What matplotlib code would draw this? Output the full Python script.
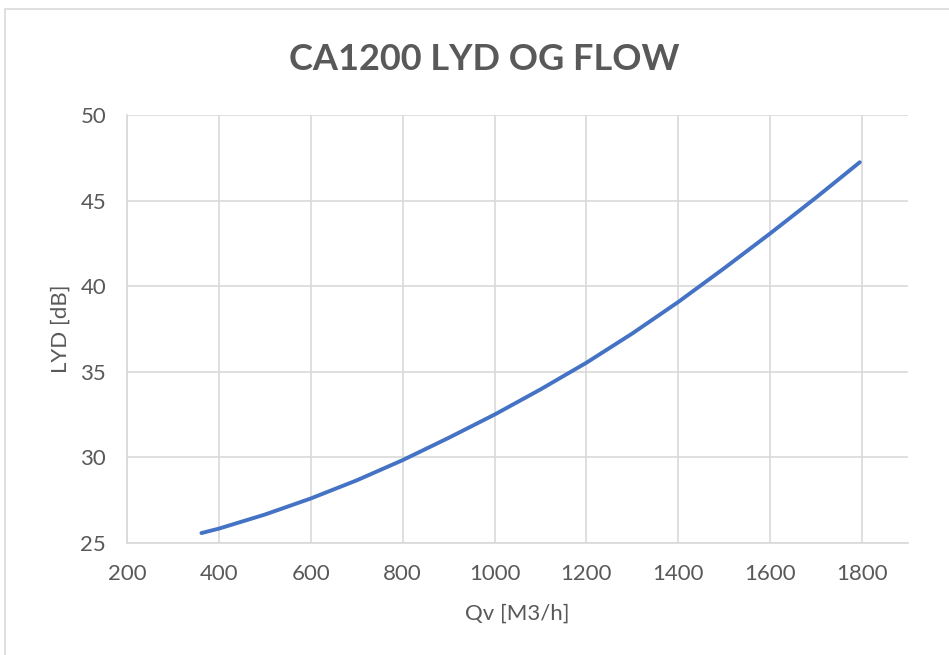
# LYD vs flow curve for CA1200

import matplotlib
matplotlib.use('Agg')
import matplotlib.pyplot as plt
from matplotlib.patches import Rectangle

flow = [362, 400, 500, 600, 700, 800, 900, 1000, 1100, 1200,
        1300, 1400, 1500, 1600, 1700, 1795]
lyd = [25.58, 25.84, 26.66, 27.60, 28.66, 29.84, 31.14, 32.50, 33.97, 35.53,
       37.24, 39.08, 41.05, 43.08, 45.18, 47.24]
xticks = [200, 400, 600, 800, 1000, 1200, 1400, 1600, 1800]
yticks = [25, 30, 35, 40, 45, 50]

title = 'CA1200 LYD OG FLOW'
xlab = 'Qv [M3/h]'
ylab = 'LYD [dB]'

txt = '#595959'
grid = '#d9d9d9'

plt.rcParams['font.family'] = ['Lato', 'DejaVu Sans']

fig = plt.figure(figsize=(9.49, 6.55), dpi=100)
fig.patches.append(Rectangle((5/949, -0.1), 1.2, 646/655 + 0.1, transform=fig.transFigure,
                             fill=False, edgecolor=grid, lw=1.2))

ax = fig.add_axes([127/949, 112/655, 781/949, 428/655])
ax.plot(flow, lyd, color='#4472C4', lw=2.8, solid_capstyle='round', zorder=3)

ax.set_xlim(200, 1900)
ax.set_ylim(25, 50)
ax.set_xticks(xticks)
ax.set_yticks(yticks)
ax.grid(True, color=grid, lw=1.2)
ax.set_axisbelow(True)
for s in ['top', 'right']:
    ax.spines[s].set_visible(False)
for s in ['left', 'bottom']:
    ax.spines[s].set_color(grid)
    ax.spines[s].set_linewidth(1.2)
ax.tick_params(length=0, labelsize=16, colors=txt, pad=15)

ax.set_xlabel(xlab, fontsize=16, color=txt, labelpad=14)
ax.set_ylabel(ylab, fontsize=16, color=txt, labelpad=7)
fig.text(484/949, 1 - 60/655, title, ha='center', va='center',
         fontsize=26, fontweight='bold', color=txt)

fig.savefig('out.png', dpi=100)
